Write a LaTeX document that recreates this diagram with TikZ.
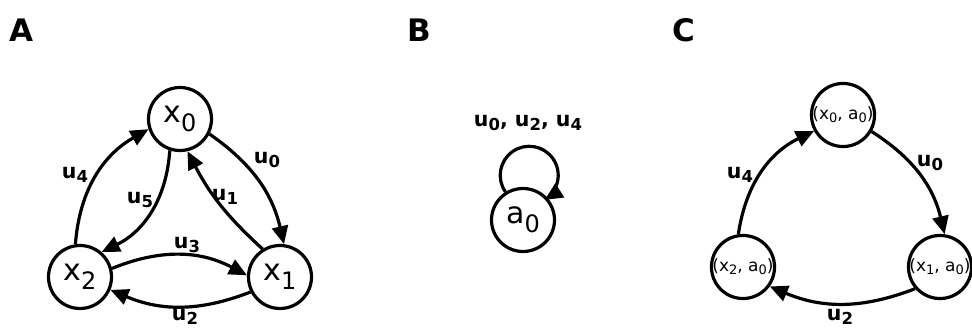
\documentclass[tikz,border=0pt]{standalone}
\usepackage{fontspec}
\setmainfont{DejaVu Sans}
\usetikzlibrary{arrows.meta}
\newcommand{\ulab}[1]{{\bfseries\fontsize{20.5}{20.5}\selectfont u\raisebox{-4pt}{\fontsize{16.5}{16.5}\selectfont #1}}}
\newcommand{\xlab}[2]{{\fontsize{30}{30}\selectfont #1\raisebox{-9pt}{\fontsize{24}{24}\selectfont #2}}}
\newcommand{\pairlab}[1]{{\fontsize{17}{17}\selectfont (x\raisebox{-3pt}{\fontsize{13}{13}\selectfont #1}, a\raisebox{-3pt}{\fontsize{13}{13}\selectfont 0})}}
\tikzset{
  state/.style={circle, draw, line width=3.2pt, minimum size=63pt, inner sep=0pt},
  edge/.style={line width=3.2pt, -{Triangle[length=18pt,width=16pt]}},
  elab/.style={inner sep=0pt},
  panel/.style={inner sep=0pt, anchor=base west, font=\bfseries\fontsize{31}{31}\selectfont}
}
\begin{document}
\begin{tikzpicture}[x=1pt,y=1pt]
\useasboundingbox (0,0) rectangle (972,329);
% panel labels
\node[panel] (LA) at (9,287) {A};
\node[panel] (LB) at (407,287) {B};
\node[panel] (LC) at (672,287) {C};
% Panel A
\node[state] (x0) at (180,210) {\xlab{x}{0}};
\node[state] (x1) at (280,52) {\xlab{x}{1}};
\node[state] (x2) at (80,52) {\xlab{x}{2}};
\draw[edge] (x0.-27) to[bend left=21] (x1.83);
\draw[edge] (x1.122) to[bend left=10] (x0.-77);
\draw[edge] (x2.98) to[bend left=28] (x0.198);
\draw[edge] (x0.-108) to[bend left=30] (x2.49);
\draw[edge] (x2.15) to[bend left=25] (x1.177);
\draw[edge] (x1.-153) to[bend left=22] (x2.-23);
\node[elab] (lu0) at (267,169) {\ulab{0}};
\node[elab] (lu1) at (225,132) {\ulab{1}};
\node[elab] (lu4) at (75,154) {\ulab{4}};
\node[elab] (lu5) at (140,129) {\ulab{5}};
\node[elab] (lu3) at (187,84) {\ulab{3}};
\node[elab] (lu2) at (185,12) {\ulab{2}};
% Panel B
\node[state] (a0) at (523,109) {\xlab{a}{0}};
\draw[edge] (a0.122) arc[start angle=215, end angle=-58, radius=29];
\node[elab] (lb) at (528,206) {\ulab{0}{\bfseries\fontsize{20.5}{20.5}\selectfont, }\ulab{2}{\bfseries\fontsize{20.5}{20.5}\selectfont, }\ulab{4}};
% Panel C
\node[state] (c0) at (843,214) {\pairlab{0}};
\node[state] (c1) at (940,62) {\pairlab{1}};
\node[state] (c2) at (743,62) {\pairlab{2}};
\draw[edge] (c0.-30) to[bend left=22] (c1.82);
\draw[edge] (c2.98) to[bend left=28] (c0.209);
\draw[edge] (c1.-139) to[bend left=22] (c2.-36);
\node[elab] (cu0) at (930,166) {\ulab{0}};
\node[elab] (cu4) at (740,154) {\ulab{4}};
\node[elab] (cu2) at (840,12) {\ulab{2}};
\end{tikzpicture}
\end{document}
